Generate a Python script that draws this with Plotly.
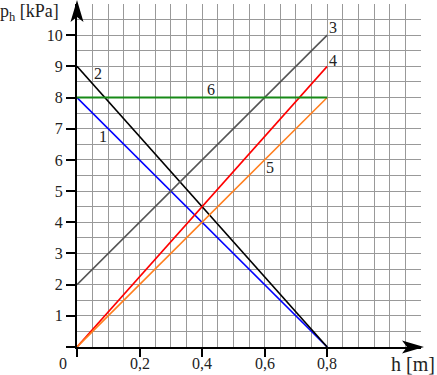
import plotly.graph_objects as go

# Data
h_start = [0, 0, 0, 0, 0, 0]
h_end = [0.8, 0.8, 0.8, 0.8, 0.8, 0.8]
p_start = [8, 9, 2, 0, 0, 8]
p_end = [0, 0, 10, 9, 8, 8]
line_names = ["1", "2", "3", "4", "5", "6"]
line_colors = ["#0000ff", "#000000", "#555555", "#ff0000", "#ff7f1e", "#178a17"]
label_x = [0.083, 0.067, 0.82, 0.82, 0.617, 0.428]
label_y = [6.76, 8.78, 10.26, 9.2, 5.77, 8.27]

x_tickvals = [0, 0.2, 0.4, 0.6, 0.8]
x_ticktext = ["", "0,2", "0,4", "0,6", "0,8"]
y_tickvals = list(range(0, 11))
y_ticktext = [""] + [str(v) for v in range(1, 11)]

FONT = "Liberation Serif"
TXT = "#222"

fig = go.Figure()
for i in range(len(line_names)):
    fig.add_trace(go.Scatter(
        x=[h_start[i], h_end[i]], y=[p_start[i], p_end[i]],
        mode="lines", line=dict(color=line_colors[i], width=2 if i == 5 else 1.6),
        showlegend=False, hoverinfo="skip", cliponaxis=False))

for i in range(len(line_names)):
    fig.add_annotation(x=label_x[i], y=label_y[i], text=line_names[i],
                       xanchor="center", yanchor="middle",
                       showarrow=False, font=dict(family=FONT, size=16, color=TXT))

# x tick labels (comma decimal separator)
for v, t in zip(x_tickvals, x_ticktext):
    if t:
        fig.add_annotation(x=v, xref="x", yref="paper", y=0, yshift=-16,
                           xanchor="center", yanchor="middle", text=t, showarrow=False,
                           font=dict(family=FONT, size=16, color=TXT))

fig.add_annotation(xref="paper", yref="paper", x=0, y=0, xshift=-14, yshift=-16,
                   xanchor="center", yanchor="middle",
                   text="0", showarrow=False, font=dict(family=FONT, size=16, color=TXT))
fig.add_annotation(xref="paper", yref="paper", x=0, y=1, xshift=-48, yshift=-8,
                   xanchor="center", yanchor="middle",
                   text="p<sub>h</sub> [kPa]", showarrow=False,
                   font=dict(family=FONT, size=18, color=TXT))
fig.add_annotation(xref="paper", yref="paper", x=1, y=0, xshift=-8, yshift=-17,
                   xanchor="center", yanchor="middle",
                   text="h [m]", showarrow=False,
                   font=dict(family=FONT, size=20, color=TXT))

# arrowheads
fig.add_shape(type="path", xref="paper", yref="paper", xsizemode="pixel", ysizemode="pixel",
              xanchor=1, yanchor=0, path="M 3,0 L -19,6.5 L -14,0 L -19,-6.5 Z",
              fillcolor="black", line=dict(width=0))
fig.add_shape(type="path", xref="paper", yref="paper", xsizemode="pixel", ysizemode="pixel",
              xanchor=0, yanchor=1, path="M 0,4 L -6.5,-18 L 0,-13 L 6.5,-18 Z",
              fillcolor="black", line=dict(width=0))

axis_common = dict(showline=True, linecolor="black", linewidth=2, automargin=False,
                   ticks="outside", tickcolor="black", tickwidth=1.5,
                   showgrid=True, gridcolor="#999999", gridwidth=1, zeroline=False,
                   tickfont=dict(family=FONT, size=16, color=TXT))

fig.update_xaxes(range=[0, 1.1], tickvals=x_tickvals, ticklen=8, showticklabels=False,
                 minor=dict(dtick=0.05, tick0=0, showgrid=True, gridcolor="#999999", gridwidth=1, ticks=""),
                 **axis_common)
fig.update_yaxes(range=[0, 11], tickvals=y_tickvals, ticktext=y_ticktext, ticklen=9,
                 minor=dict(dtick=0.5, tick0=0, showgrid=True, gridcolor="#999999", gridwidth=1, ticks=""),
                 **axis_common)

fig.update_layout(width=437, height=375, margin=dict(l=77, r=16, t=4, b=28),
                  plot_bgcolor="white", paper_bgcolor="white")

fig.write_html("out.html", config={"displayModeBar": False},
               post_script="document.body.style.margin='0';")
